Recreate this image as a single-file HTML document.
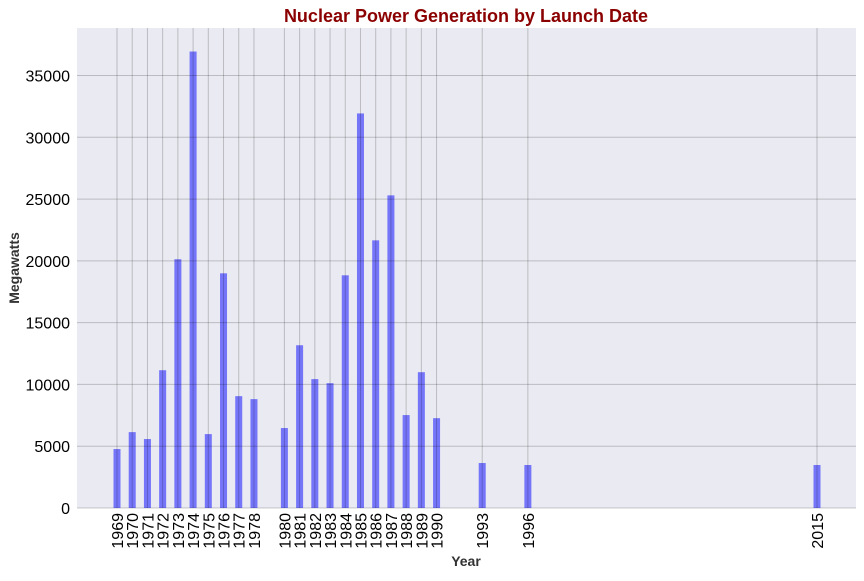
<!DOCTYPE html>
<html><head><meta charset="utf-8"><style>
body{margin:0;background:#fff;font-family:"Liberation Sans",Arial,sans-serif}
svg text{font-family:"Liberation Sans",Arial,sans-serif}
</style></head><body>
<svg id="chart" width="864" height="576" xmlns="http://www.w3.org/2000/svg">
<rect x="77" y="28" width="779" height="480" fill="#eaeaf2"/>
<g id="bars"></g>
<g id="grid"></g>
<g id="labels"></g>
<text x="466" y="22" text-anchor="middle" font-size="18" font-weight="bold" fill="#8b0000">Nuclear Power Generation by Launch Date</text>
<text x="466" y="566" text-anchor="middle" font-size="14" font-weight="bold" fill="#333">Year</text>
<text x="0" y="0" transform="translate(19,268) rotate(-90)" text-anchor="middle" font-size="14" font-weight="bold" fill="#333">Megawatts</text>
</svg>
<script>
const years=[1969,1970,1971,1972,1973,1974,1975,1976,1977,1978,1980,1981,1982,1983,1984,1985,1986,1987,1988,1989,1990,1993,1996,2015];
const megawatts=[4770,6140,5580,11150,20130,36940,5980,18990,9050,8810,6470,13170,10430,10100,18830,31930,21660,25300,7520,10990,7270,3640,3480,3480];
const yTicks=[0,5000,10000,15000,20000,25000,30000,35000];
const NS="http://www.w3.org/2000/svg";
const x=v=>117+(v-1969)*(700/46);
const y=v=>508-v*(432.5/35000);
const bars=document.getElementById('bars'),grid=document.getElementById('grid'),labels=document.getElementById('labels');
function mk(tag,attrs,parent){const e=document.createElementNS(NS,tag);for(const k in attrs)e.setAttribute(k,attrs[k]);parent.appendChild(e);return e;}
years.forEach((yr,i)=>{
  const r=mk('rect',{x:x(yr)-3.5,y:y(megawatts[i]),width:7,height:y(0)-y(megawatts[i]),fill:'#0000ff','fill-opacity':0.5},bars);
  
  
  const g=mk('line',{x1:x(yr),x2:x(yr),y1:28,y2:508,stroke:'#000','stroke-opacity':0.2,'stroke-width':1},grid);
  
  
  const t=mk('text',{x:0,y:0,transform:`translate(${x(yr)+6},${513}) rotate(-90)`,'text-anchor':'end','font-size':16,fill:'#000'},labels);
  t.textContent=yr;
  
  
});
yTicks.forEach(v=>{
  const g=mk('line',{x1:77,x2:856,y1:y(v),y2:y(v),stroke:'#000','stroke-opacity':0.2,'stroke-width':1},grid);
  
  
  const t=mk('text',{x:70,y:y(v)+6,'text-anchor':'end','font-size':16,fill:'#000'},labels);
  t.textContent=v;
  
  
});
</script>
</body></html>
